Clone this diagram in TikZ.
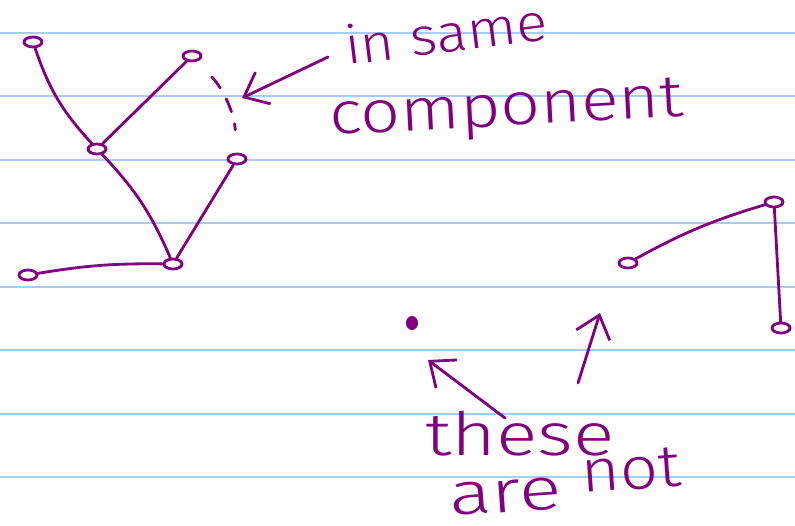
\documentclass[tikz,border=0pt]{standalone}
\usepackage{fontspec}
\setmainfont{Fira Sans Light}
\usetikzlibrary{arrows.meta,shapes.geometric}
\definecolor{ink}{HTML}{800080}
\definecolor{rule}{HTML}{A6CDF7}

\begin{document}
\begin{tikzpicture}[x=0.02cm, y=0.02cm,
  vert/.style={draw=ink, ellipse, line width=1.6pt, fill=white, minimum width=0.36cm, minimum height=0.2cm, inner sep=0pt},
  dot/.style={fill=ink, ellipse, minimum width=0.24cm, minimum height=0.28cm, inner sep=0pt},
  edge/.style={ink, line width=1.6pt, line cap=round},
  pen/.style={-{Straight Barb[length=12pt,width=20pt]}, ink, line width=1.6pt, line cap=round},
  note/.style={text=ink, font=\fontsize{34}{34}\selectfont, inner sep=0pt, anchor=base west}
]
  \useasboundingbox[fill=white] (0,0) rectangle (795,525);
  % ruled paper
  \foreach \k in {0,...,7}
    \draw[rule, line width=1.2pt] (0,492-63.43*\k) -- (795,492-63.43*\k);

  % first component
  \node[vert] (a) at (33,483) {};
  \node[vert] (b) at (192,469) {};
  \node[vert] (c) at (97,376) {};
  \node[vert] (d) at (237,366) {};
  \node[vert] (e) at (28,250) {};
  \node[vert] (f) at (173,261) {};
  % isolated vertex and second component
  \node[dot] (g) at (412,202) {};
  \node[vert] (h) at (628,262) {};
  \node[vert] (i) at (774,323) {};
  \node[vert] (j) at (781,197) {};

  \draw[edge] (a) to[bend right=12] (c);
  \draw[edge] (b) -- (c);
  \draw[edge] (c) to[bend left=10] (f);
  \draw[edge] (f) -- (d);
  \draw[edge] (e) to[bend left=5] (f);
  \draw[edge] (h) to[bend left=6] (i);
  \draw[edge] (i) -- (j);
  \draw[edge, dashed, dash pattern=on 8pt off 7pt, shorten <=12pt, shorten >=13pt] (b) to[bend left=20] (d);

  % labels
  \node[note, font=\fontsize{30}{30}\selectfont, rotate=7] (same) at (347,460) {\scalebox{1.1}[1]{in same}};
  \node[note, rotate=3] (comp) at (330,390) {\scalebox{1.17}[1]{component}};
  \node[note] (these) at (425,70) {\scalebox{1.29}[1]{these}};
  \node[note, rotate=4] (are) at (450,9) {\scalebox{1.33}[1]{are}};
  \node[note, rotate=4] (not) at (582,32) {\scalebox{1.12}[1]{not}};

  \coordinate (p1) at (328,468);
  \coordinate (q1) at (242,427);
  \coordinate (p2) at (505,107);
  \coordinate (q2) at (428,165);
  \coordinate (p3) at (578,142);
  \coordinate (q3) at (600,212);
  \draw[pen] (p1) -- (q1);
  \draw[pen] (p2) -- (q2);
  \draw[pen] (p3) -- (q3);
\end{tikzpicture}
\end{document}
